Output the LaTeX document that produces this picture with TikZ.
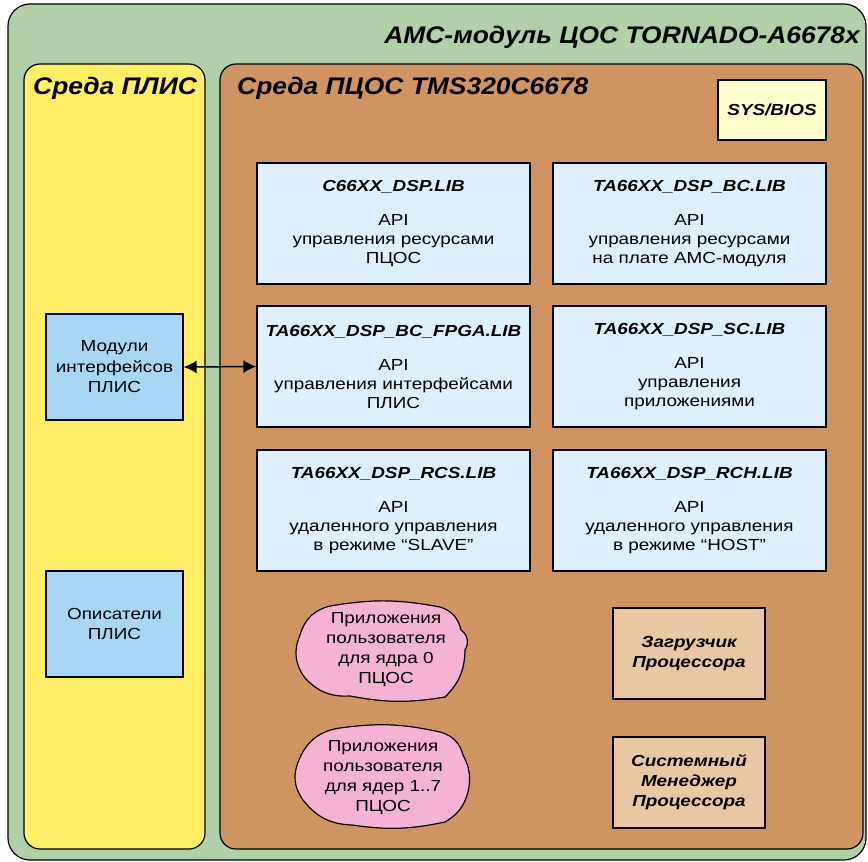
\documentclass[tikz,border=0pt]{standalone}
\usepackage{fontspec}
\setmainfont{Liberation Sans}[FakeStretch=1.18]
\newfontfamily\headfont{Liberation Sans}[FakeStretch=1.1]
\usetikzlibrary{arrows.meta}
\definecolor{greenbg}{RGB}{176,208,168}
\definecolor{yellowbg}{RGB}{255,238,102}
\definecolor{brownbg}{RGB}{208,148,98}
\definecolor{libblue}{RGB}{222,240,252}
\definecolor{modblue}{RGB}{166,216,245}
\definecolor{cloudpink}{RGB}{245,178,210}
\definecolor{tanbox}{RGB}{233,199,162}
\definecolor{sysyellow}{RGB}{255,255,204}
\newcommand{\libttl}[1]{{\bfseries\itshape #1}}
\begin{document}
\begin{tikzpicture}[x=1pt,y=-1pt,
  container/.style={draw, line width=1.2pt, rounded corners=16pt},
  libbox/.style={draw, line width=1.3pt, fill=libblue, minimum width=273pt, minimum height=121pt, align=center, inner sep=0pt, font=\fontsize{16}{19}\selectfont},
  fpgabox/.style={draw, line width=1.3pt, fill=modblue, minimum width=137pt, minimum height=106pt, align=center, inner sep=0pt, font=\fontsize{16}{20.5}\selectfont},
  tanstyle/.style={draw, line width=1.3pt, fill=tanbox, minimum width=152pt, minimum height=91pt, align=center, inner sep=0pt, font=\fontsize{16}{20}\selectfont\bfseries\itshape},
  blob/.style={draw, line width=1.2pt, fill=cloudpink, line join=round},
  cloudtext/.style={align=center, inner sep=0pt, font=\fontsize{16}{20}\selectfont},
  heading/.style={font=\headfont\fontsize{24}{28}\selectfont\bfseries\itshape, inner sep=0pt}
]
\useasboundingbox (0,0) rectangle (868,862);
% containers
\draw[container, fill=greenbg, rounded corners=22pt] (8,4) rectangle (866,860);
\draw[container, fill=yellowbg] (24,64) rectangle (205,849);
\draw[container, fill=brownbg] (220,64) rectangle (863,849);
% headings
\node[heading, anchor=east] (title) at (860,37) {АМС-модуль ЦОС TORNADO-A6678x};
\node[heading, anchor=west] (plis) at (33,88) {Среда ПЛИС};
\node[heading, anchor=west] (dsp) at (237,88) {Среда ПЦОС TMS320C6678};
% SYS/BIOS
\node[draw, line width=1.3pt, fill=sysyellow, minimum width=108pt, minimum height=60pt, inner sep=0pt, font=\fontsize{16}{18}\selectfont\bfseries\itshape] (sys) at (772,110) {SYS/BIOS};
% library boxes
\node[libbox] (b1) at (393.5,223.5) {\libttl{C66XX\_DSP.LIB}\\[15pt]API\\управления ресурсами\\ПЦОС};
\node[libbox] (b2) at (689.5,223.5) {\libttl{TA66XX\_DSP\_BC.LIB}\\[15pt]API\\управления ресурсами\\на плате АМС-модуля};
\node[libbox] (b3) at (393.5,366.5) {\libttl{TA66XX\_DSP\_BC\_FPGA.LIB}\\[15pt]API\\управления интерфейсами\\ПЛИС};
\node[libbox] (b4) at (689.5,366.5) {\libttl{TA66XX\_DSP\_SC.LIB}\\[15pt]API\\управления\\приложениями};
\node[libbox] (b5) at (393.5,510.5) {\libttl{TA66XX\_DSP\_RCS.LIB}\\[15pt]API\\удаленного управления\\в режиме “SLAVE”};
\node[libbox] (b6) at (689.5,510.5) {\libttl{TA66XX\_DSP\_RCH.LIB}\\[15pt]API\\удаленного управления\\в режиме “HOST”};
% FPGA side
\node[fpgabox] (mod) at (114.5,367) {Модули\\интерфейсов\\ПЛИС};
\node[fpgabox] (desc) at (114.5,624) {Описатели\\ПЛИС};
% clouds
\draw[blob] (300,635) to[bend left=30] (330,606) to[bend left=10] (440,607)
  to[bend left=30] (461,630) to[bend left=45] (465,650) to[bend left=22] (445,697)
  to[bend left=10] (350,696) to[bend left=25] (305,678) to[bend left=30] cycle;
\node[cloudtext] (app0) at (386,650) {Приложения\\пользователя\\для ядра 0\\ПЦОС};
\draw[blob] (299,760) to[bend left=30] (340,728) to[bend left=10] (440,732)
  to[bend left=30] (463,755) to[bend left=20] (468,792) to[bend left=22] (445,822)
  to[bend left=10] (352,825) to[bend left=25] (303,800) to[bend left=30] cycle;
\node[cloudtext] (app1) at (383,778) {Приложения\\пользователя\\для ядер 1..7\\ПЦОС};
% tan boxes
\node[tanstyle] (boot) at (689,653.5) {Загрузчик\\Процессора};
\node[tanstyle] (mgr) at (689,782.5) {Системный\\Менеджер\\Процессора};
% arrow
\draw[{Latex[length=13pt,width=13pt]}-{Latex[length=13pt,width=13pt]}, line width=1.5pt] (mod.east) -- (b3.west);
\end{tikzpicture}
\end{document}
